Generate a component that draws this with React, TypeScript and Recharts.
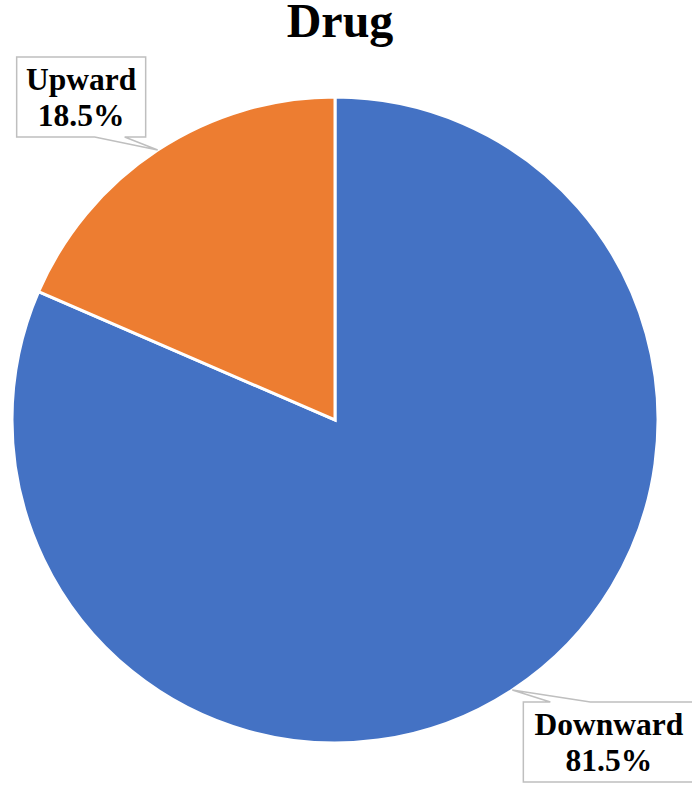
import { PieChart, Pie, Cell } from 'recharts';

const categories = ['Downward', 'Upward'];
const shares = [81.5, 18.5];
const colors = ['#4472C4', '#ED7D31'];

const data = categories.map((name, i) => ({ name, value: shares[i] }));

const RAD = Math.PI / 180;

function CalloutLabel(props: any) {
  const { cx, cy, midAngle, outerRadius, name, value } = props;
  const ax = cx + outerRadius * Math.cos(-midAngle * RAD);
  const ay = cy + outerRadius * Math.sin(-midAngle * RAD);
  const w = 21 * Math.max(name.length, 6) + 3;
  const h = 80;
  const left = ax < cx;
  let d: string;
  let bx: number;
  let by: number;
  if (left) {
    // box sits above-left of the slice, pointer from its bottom edge
    bx = ax - 12 - w;
    by = ay - 13 - h;
    const p1 = bx + w - 51;
    const p2 = bx + w - 21;
    d = `M${bx},${by} H${bx + w} V${by + h} H${p2} L${ax},${ay} L${p1},${by + h} H${bx} Z`;
  } else {
    bx = ax + 11;
    by = ay + 12;
    const p1 = bx + 27;
    const p2 = bx + 67;
    d = `M${bx},${by} H${p1} L${ax},${ay} L${p2},${by} H${bx + w} V${by + h} H${bx} Z`;
  }
  return (
    <g>
      <path d={d} fill="#fff" stroke="#bfbfbf" strokeWidth={1.5} />
      <text
        x={bx + w / 2}
        textAnchor="middle"
        fontFamily="'Liberation Serif', 'Times New Roman', serif"
        fontWeight="bold"
        fontSize={31.5}
        fill="#000"
      >
        <tspan x={bx + w / 2} y={by + 33}>{name}</tspan>
        <tspan x={bx + w / 2} y={by + 69}>{`${value.toFixed(1)}%`}</tspan>
      </text>
    </g>
  );
}

export default function App() {
  return (
    <div style={{ position: 'absolute', left: 0, top: 0, width: 692, height: 786, background: '#fff' }}>
      <div
        style={{
          position: 'absolute',
          left: 0,
          top: 0,
          width: 680,
          textAlign: 'center',
          fontFamily: "'Liberation Serif', 'Times New Roman', serif",
          fontWeight: 'bold',
          fontSize: 48,
          lineHeight: '42px',
          color: '#000',
        }}
      >
        Drug
      </div>
      <PieChart width={692} height={786} margin={{ top: 0, right: 0, bottom: 0, left: 0 }}>
        <Pie
          data={data}
          dataKey="value"
          nameKey="name"
          cx={335}
          cy={420}
          outerRadius={323}
          startAngle={90}
          endAngle={-270}
          stroke="#fff"
          strokeWidth={3}
          label={CalloutLabel}
          labelLine={false}
          isAnimationActive={false}
        >
          {data.map((d, i) => (
            <Cell key={d.name} fill={colors[i]} />
          ))}
        </Pie>
      </PieChart>
    </div>
  );
}
